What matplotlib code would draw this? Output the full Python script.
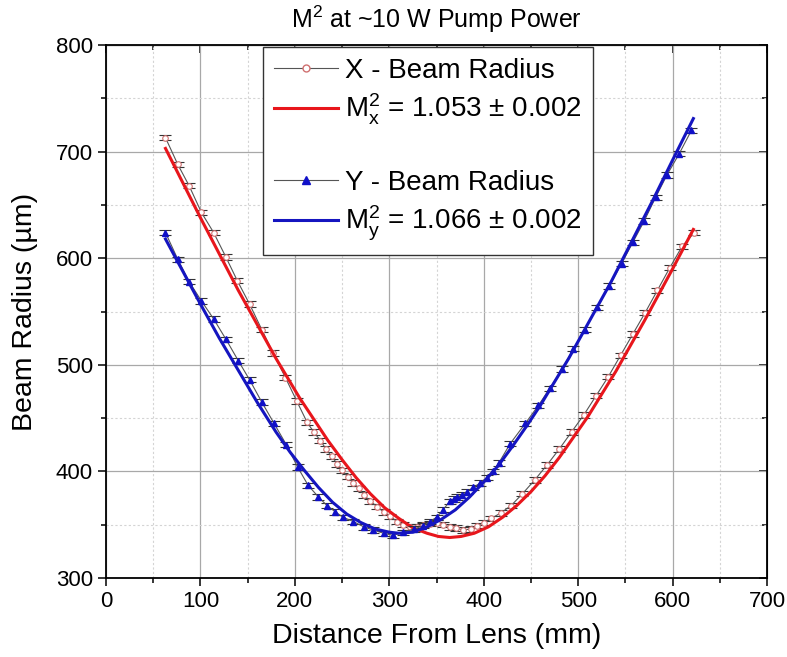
import numpy as np
import matplotlib
matplotlib.use('Agg')
import matplotlib.pyplot as plt
from matplotlib.lines import Line2D

plt.rcParams['font.family'] = ['Liberation Sans', 'DejaVu Sans']
plt.rcParams['mathtext.default'] = 'regular'

# X - beam radius (measured)
x_pos = [63, 76, 88, 101, 114, 127, 139, 152, 165, 177, 190, 202, 213, 220, 227, 233,
         239, 245, 250, 256, 262, 268, 273, 280, 287, 294, 301, 308, 315, 322, 329, 336,
         343, 350, 357, 364, 371, 378, 386, 393, 400, 408, 418, 429, 441, 454, 467, 480,
         493, 506, 519, 532, 545, 558, 571, 584, 597, 610, 623]
x_rad = [713, 688, 668, 643, 624, 601, 579, 557, 533, 511, 488, 466, 446, 437, 429, 421,
         414, 407, 401, 395, 389, 384, 378, 372, 367, 362, 358, 353, 350, 348, 348, 350,
         351, 352, 350, 348, 347, 345, 346, 349, 352, 356, 361, 368, 379, 392, 406, 421,
         437, 453, 471, 489, 509, 529, 549, 570, 591, 611, 624]

# Y - beam radius (measured)
y_pos = [63, 76, 88, 101, 114, 127, 140, 152, 165, 178, 191, 203, 214, 225, 234, 243,
         251, 262, 273, 283, 294, 304, 315, 326, 336, 343, 350, 357, 364, 368, 372, 377,
         382, 389, 396, 403, 410, 416, 428, 444, 458, 470, 483, 495, 507, 520, 533, 546,
         558, 570, 582, 594, 607, 620]
y_rad = [624, 599, 578, 560, 543, 524, 504, 486, 465, 445, 425, 404, 387, 376, 368, 362,
         357, 353, 348, 345, 342, 340, 343, 346, 349, 353, 357, 364, 372, 374, 376, 378,
         381, 385, 389, 394, 400, 408, 426, 445, 462, 478, 496, 515, 533, 554, 574, 595,
         615, 635, 657, 678, 698, 720]

# fitted curves
fx_pos = [63, 100, 140, 180, 205, 220, 235, 250, 265, 280, 295, 310, 325, 340, 352,
          364, 376, 390, 405, 420, 435, 450, 465, 480, 495, 510, 540, 570, 600, 622]
fx_rad = [703, 638, 570, 506, 469, 449, 429, 411, 394, 379, 366, 356, 347, 342, 339,
          338, 339, 342, 348, 357, 368, 381, 396, 413, 432, 451, 494, 541, 590, 627]
fy_pos = [63, 80, 100, 120, 140, 160, 180, 195, 210, 225, 240, 255, 270, 285, 300,
          310, 325, 340, 355, 370, 385, 400, 415, 430, 445, 460, 475, 490, 505, 520,
          535, 550, 565, 580, 600, 622]
fy_rad = [618, 590, 557, 525, 495, 465, 437, 418, 401, 385, 371, 360, 352, 346, 343,
          342, 343, 348, 355, 364, 376, 390, 405, 423, 442, 462, 484, 506, 530, 554,
          578, 604, 630, 656, 692, 731]

err = 2.5

fig = plt.figure(figsize=(7.87, 6.57), dpi=100)
ax = fig.add_axes([0.1347, 0.1202, 0.8399, 0.8113])

ax.errorbar(x_pos, x_rad, yerr=err, color='#555555', lw=0.8, ecolor='#333333',
            elinewidth=0.8, capsize=4, capthick=0.8, marker='o', ms=4,
            mfc='white', mec='#d07070', mew=0.8, zorder=3)
ax.plot(fx_pos, fx_rad, color='#e8161c', lw=2.2, zorder=4)
ax.errorbar(y_pos, y_rad, yerr=err, color='#555555', lw=0.8, ecolor='#333333',
            elinewidth=0.8, capsize=4, capthick=0.8, marker='^', ms=5,
            mfc='#1010c8', mec='#1010c8', zorder=5)
ax.plot(fy_pos, fy_rad, color='#1515c0', lw=2.2, zorder=6)

ax.set_xlim(0, 700)
ax.set_ylim(300, 800)
ax.set_xticks(np.arange(0, 701, 100))
ax.set_yticks(np.arange(300, 801, 100))
ax.set_xticks(np.arange(50, 700, 100), minor=True)
ax.set_yticks(np.arange(350, 800, 100), minor=True)
ax.grid(which='major', color='#a8a8a8', lw=0.9, ls='-')
ax.grid(which='minor', color='#d4d4d4', lw=0.8, ls=(0, (2, 2)))
ax.set_axisbelow(True)

ax.tick_params(which='both', direction='out', top=False, right=False,
               labelsize=16, width=1.1, colors='black')
ax.tick_params(which='major', length=6)
ax.tick_params(which='minor', length=3.5)
ax2 = ax.secondary_xaxis('top')
ax2.set_xticks(np.arange(0, 701, 100))
ax2.set_xticks(np.arange(50, 700, 100), minor=True)
ax2.tick_params(which='both', direction='in', labeltop=False, width=1.1)
ax2.tick_params(which='major', length=6)
ax2.tick_params(which='minor', length=3.5)
ax3 = ax.secondary_yaxis('right')
ax3.set_yticks(np.arange(300, 801, 100))
ax3.set_yticks(np.arange(350, 800, 100), minor=True)
ax3.tick_params(which='both', direction='in', labelright=False, width=1.1)
ax3.tick_params(which='major', length=6)
ax3.tick_params(which='minor', length=3.5)
for sp in ax.spines.values():
    sp.set_linewidth(1.3)

ax.set_xlabel('Distance From Lens (mm)', fontsize=20.5, labelpad=8)
ax.set_ylabel('Beam Radius (\u00b5m)', fontsize=20.5, labelpad=13)
ax.set_title('M$^2$ at ~10 W Pump Power', fontsize=18, pad=12)

handles = [
    Line2D([], [], color='#555555', lw=0.8, marker='o', ms=5, mfc='white', mec='#d07070'),
    Line2D([], [], color='#e8161c', lw=2.2),
    Line2D([], [], color='none'),
    Line2D([], [], color='#555555', lw=0.8, marker='^', ms=6, mfc='#1010c8', mec='#1010c8'),
    Line2D([], [], color='#1515c0', lw=2.2),
]
labels = ['X - Beam Radius', 'M$_x^2$ = 1.053 \u00b1 0.002', ' ',
          'Y - Beam Radius', 'M$_y^2$ = 1.066 \u00b1 0.002']
leg = ax.legend(handles, labels, loc='upper left', bbox_to_anchor=(0.2375, 0.997),
                borderaxespad=0, fontsize=20, handlelength=2.3, handletextpad=0.25,
                labelspacing=0.3, fancybox=False, framealpha=1, edgecolor='#333333',
                borderpad=0.4)
leg.get_frame().set_linewidth(1.0)

fig.savefig('out.png', dpi=100)
